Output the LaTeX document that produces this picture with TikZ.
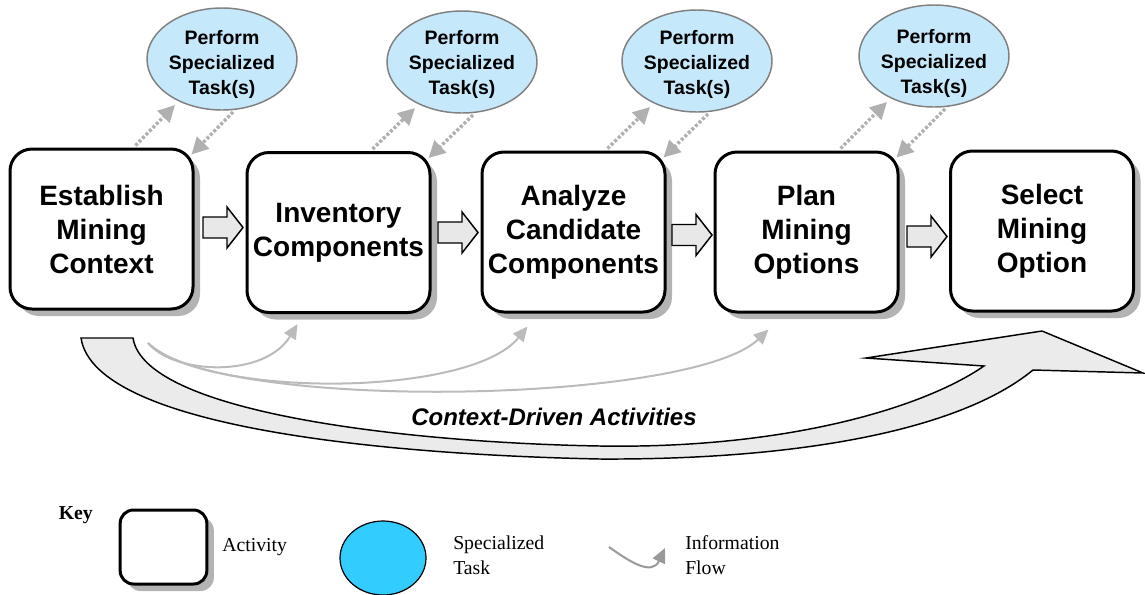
\documentclass[tikz,border=0pt]{standalone}
\usepackage{fontspec}
\setmainfont{Liberation Serif}
\newfontfamily\arialf{Liberation Sans}
\usetikzlibrary{arrows.meta,shadows,calc,shapes.geometric}
\definecolor{shadowgray}{HTML}{B3B3B3}
\definecolor{dotgray}{HTML}{B0B0B0}
\definecolor{flowgray}{HTML}{BBBBBB}
\definecolor{keyflow}{HTML}{999999}
\definecolor{tasklight}{HTML}{C6E8FB}
\definecolor{taskborder}{HTML}{808080}
\definecolor{taskcyan}{HTML}{33CCFF}
\definecolor{bigfill}{HTML}{EBEBEB}
\definecolor{blkfill}{HTML}{E8E8E8}
\begin{document}
\begin{tikzpicture}[x=0.75pt,y=-0.75pt,
  activity/.style={draw=black, line width=2.25pt, rounded corners=16.5pt, fill=white,
    minimum width=137.25pt, minimum height=120pt, align=center, inner sep=0pt,
    font=\arialf\bfseries\fontsize{21}{25.5}\selectfont,
    drop shadow={shadow xshift=5.25pt, shadow yshift=-5.25pt, fill=shadowgray, opacity=1}},
  task/.style={ellipse, draw=taskborder, line width=1.1pt, fill=tasklight,
    minimum width=112.5pt, minimum height=76.5pt, inner sep=0pt},
  tasktext/.style={align=center, inner sep=0pt,
    font=\arialf\bfseries\fontsize{14.6}{18.75}\selectfont},
  dotarr/.style={draw=dotgray, line width=2.6pt, dash pattern=on 2.2pt off 1.5pt,
    -{Triangle[length=12.5pt,width=12.5pt,fill=dotgray]}},
  flow/.style={draw=flowgray, line width=1.5pt, -{Triangle[length=11pt,width=10pt,fill=flowgray]}},
  keytext/.style={font=\fontsize{14.8}{18.75}\selectfont, align=left, inner sep=0pt},
  blockarr/.pic={\draw[fill=blkfill, line width=1.1pt, line join=miter]
     (0,-10.5) -- (24,-10.5) -- (24,-20.5) -- (40,0) -- (24,20.5) -- (24,10.5) -- (0,10.5) -- cycle;}
]
\useasboundingbox (0,0) rectangle (1145,594);

% activities
\node[activity] (b1) at (101.5,229) {Establish\\Mining\\Context};
\node[activity] (b2) at (338.5,232.5) {Inventory\\Components};
\node[activity] (b3) at (573.5,232) {Analyze\\Candidate\\Components};
\node[activity] (b4) at (806.5,232) {Plan\\Mining\\Options};
\node[activity] (b5) at (1042,231) {Select\\Mining\\Option};

% specialized tasks
\node[task] (e1) at (222,59) {};
\node[task] (e2) at (462,62) {};
\node[task] (e3) at (697,61) {};
\node[task] (e4) at (934,56) {};
\node[tasktext] (e1t) at (222,64) {Perform\\Specialized\\Task(s)};
\node[tasktext] (e2t) at (462,64) {Perform\\Specialized\\Task(s)};
\node[tasktext] (e3t) at (697,64) {Perform\\Specialized\\Task(s)};
\node[tasktext] (e4t) at (934,63) {Perform\\Specialized\\Task(s)};

% dotted arrows
\foreach \b/\e in {b1/e1,b2/e2,b3/e3,b4/e4}{
  \draw[dotarr] ($(\b.north west)+(127,-2)$) -- ($(\e.center)+(-47,46)$);
  \draw[dotarr] ($(\e.center)+(11,53)$) -- ($(\b.north east)+(-3,7)$);
}

% block arrows between activities
\pic at (203,227.5) {blockarr};
\pic at (438,232.5) {blockarr};
\pic at (672,235) {blockarr};
\pic at (907,236.5) {blockarr};

% big context-driven arrow
\draw[fill=bigfill, line width=1.1pt, line join=miter]
  (81,338) .. controls (95,430) and (400,455) .. (600,459)
  .. controls (800,460) and (960,430) .. (1033,370)
  -- (1143,373) -- (1042,331) -- (866,358) -- (984,366)
  .. controls (920,410) and (780,449) .. (600,446)
  .. controls (420,443) and (145,415) .. (133,338) -- cycle;
\node[font=\arialf\bfseries\itshape\fontsize{18}{22}\selectfont, inner sep=0pt, anchor=base] (cda) at (554,425) {Context-Driven Activities};

% information flows
\coordinate (cs) at (148,343);
\draw[flow] (cs) .. controls (175,375) and (265,378) .. ($(b2.south)+(-41,10)$);
\draw[flow] (cs) .. controls (205,398) and (470,398) .. ($(b3.south)+(-46,13)$);
\draw[flow] (cs) .. controls (215,412) and (690,405) .. ($(b4.south)+(-38,16)$);

% key
\node[font=\bfseries\fontsize{14.8}{18}\selectfont, anchor=base east, inner sep=0pt] (key) at (93,519) {Key};
\node[draw=black, line width=2.25pt, rounded corners=10pt, fill=white, minimum width=65pt, minimum height=55.5pt,
  drop shadow={shadow xshift=5.25pt, shadow yshift=-5.25pt, fill=shadowgray, opacity=1}] (kbox) at (163.5,547) {};
\node[keytext, anchor=base west] (kact) at (222,551) {Activity};
\node[ellipse, draw=black, line width=0.9pt, fill=taskcyan, minimum width=64.5pt, minimum height=55.5pt, inner sep=0pt] (kell) at (383,558) {};
\node[keytext, anchor=base west] (ktask) at (453,574) {Specialized\\Task};
\coordinate (kf1) at (609,547);
\coordinate (kf2) at (665,548);
\draw[draw=keyflow, line width=1.5pt, -{Triangle[length=11pt,width=10pt,fill=keyflow]}]
  (kf1) .. controls (630,562) and (652,576) .. (kf2);
\node[keytext, anchor=base west] (kinfo) at (685,574) {Information\\Flow};
\end{tikzpicture}
\end{document}
